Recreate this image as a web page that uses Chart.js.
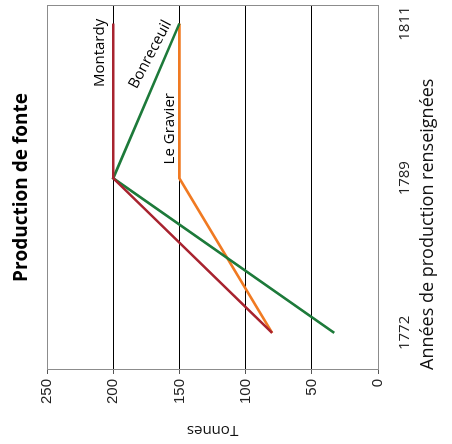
<!DOCTYPE html>
<html>
<head>
<meta charset="utf-8">
<script src="https://cdn.jsdelivr.net/npm/chart.js@4.4.0/dist/chart.umd.min.js"></script>
<style>
  html, body { margin: 0; padding: 0; background: #fff; }
  body { width: 452px; height: 444px; overflow: hidden; position: relative; }
  /* chart is drawn upright, then turned a quarter turn to the left */
  #wrap {
    position: absolute; left: 0; top: 0;
    width: 444px; height: 452px;
    transform-origin: 0 0;
    transform: translate(0, 444px) rotate(-90deg);
  }
</style>
</head>
<body>
<div id="wrap"><canvas id="chart" width="444" height="452"></canvas></div>
<script>
// data
const years = ['1772', '1789', '1811'];
const montardy = [80, 200, 200];
const bonreceuil = [33, 200, 150];
const leGravier = [80, 150, 150];
const tonnesTicks = [0, 50, 100, 150, 200, 250];

// labels written beside the lines (x = year index, y = tonnes)
const lineLabels = [
    { text: 'Montardy', x: 1.81, y: 210, angle: 0 },
    { text: 'Bonreceuil', x: 1.80, y: 172, angle: 28 },
    { text: 'Le Gravier', x: 1.32, y: 157, angle: 0 }
];

const gridGrey = '#8c8c8c';

function toPoints(values) {
    return values.map((v, i) => ({ x: i, y: v }));
}

// box, title and line labels
const decorPlugin = {
    id: 'decor',
    afterDatasetsDraw(chart) {
        const ctx = chart.ctx;
        const area = chart.chartArea;
        const xs = chart.scales.x;
        const ys = chart.scales.y;

        ctx.save();
        ctx.strokeStyle = gridGrey;
        ctx.lineWidth = 1;
        ctx.strokeRect(area.left + 0.5, area.top + 0.5, area.right - area.left - 1, area.bottom - area.top);

        ctx.fillStyle = '#000';
        ctx.font = 'bold 19px "Open Sans"';
        ctx.textAlign = 'center';
        ctx.textBaseline = 'middle';
        ctx.fillText('Production de fonte', (area.left + area.right) / 2, 22);

        ctx.font = '15px "Open Sans"';
        lineLabels.forEach(lbl => {
            ctx.save();
            ctx.translate(xs.getPixelForValue(lbl.x), ys.getPixelForValue(lbl.y));
            ctx.rotate(lbl.angle * Math.PI / 180);
            ctx.fillText(lbl.text, 0, 0);
            ctx.restore();
        });
        ctx.restore();
    }
};

const ctx = document.getElementById('chart').getContext('2d');
new Chart(ctx, {
    type: 'line',
    data: {
        datasets: [
            { label: 'Montardy', data: toPoints(montardy), borderColor: '#a8232f' },
            { label: 'Bonreceuil', data: toPoints(bonreceuil), borderColor: '#1d7a3a' },
            { label: 'Le Gravier', data: toPoints(leGravier), borderColor: '#f07a22' }
        ]
    },
    options: {
        responsive: false,
        animation: false,
        devicePixelRatio: 1,
        layout: { padding: { top: 47, right: 5, left: 0, bottom: 0 } },
        elements: {
            line: { borderWidth: 2.6, tension: 0 },
            point: { radius: 0 }
        },
        plugins: {
            legend: { display: false },
            tooltip: { enabled: false }
        },
        scales: {
            x: {
                type: 'linear',
                min: -0.24,
                max: 2.12,
                afterBuildTicks: scale => {
                    scale.ticks = years.map((_, i) => ({ value: i }));
                },
                afterFit: scale => {
                    scale.height = 74;
                    scale.paddingLeft = 0;
                    scale.paddingRight = 0;
                },
                grid: { display: false },
                border: { display: false },
                ticks: {
                    autoSkip: false,
                    maxRotation: 0,
                    padding: 10,
                    color: '#222',
                    font: { family: 'Open Sans', size: 15 },
                    callback: v => years[v]
                },
                title: {
                    display: true,
                    text: 'Années de production renseignées',
                    align: 'start',
                    color: '#111',
                    font: { family: 'Open Sans', size: 18 },
                    padding: { top: 0, bottom: 13 }
                }
            },
            y: {
                min: 0,
                max: 250,
                afterBuildTicks: scale => {
                    scale.ticks = tonnesTicks.map(v => ({ value: v }));
                },
                afterFit: scale => {
                    scale.width = 74;
                    scale.paddingTop = 0;
                    scale.paddingBottom = 0;
                },
                grid: {
                    color: c => (c.tick.value === 0 || c.tick.value === 250) ? gridGrey : '#000',
                    tickLength: 4,
                    tickColor: '#555'
                },
                border: { display: false },
                ticks: {
                    padding: 5,
                    color: '#222',
                    font: { family: 'Liberation Sans', size: 15 }
                },
                title: {
                    display: true,
                    text: 'Tonnes',
                    color: '#111',
                    font: { family: 'Open Sans', size: 15 },
                    padding: { top: 5, bottom: 0 }
                }
            }
        }
    },
    plugins: [decorPlugin]
});
</script>
</body>
</html>
